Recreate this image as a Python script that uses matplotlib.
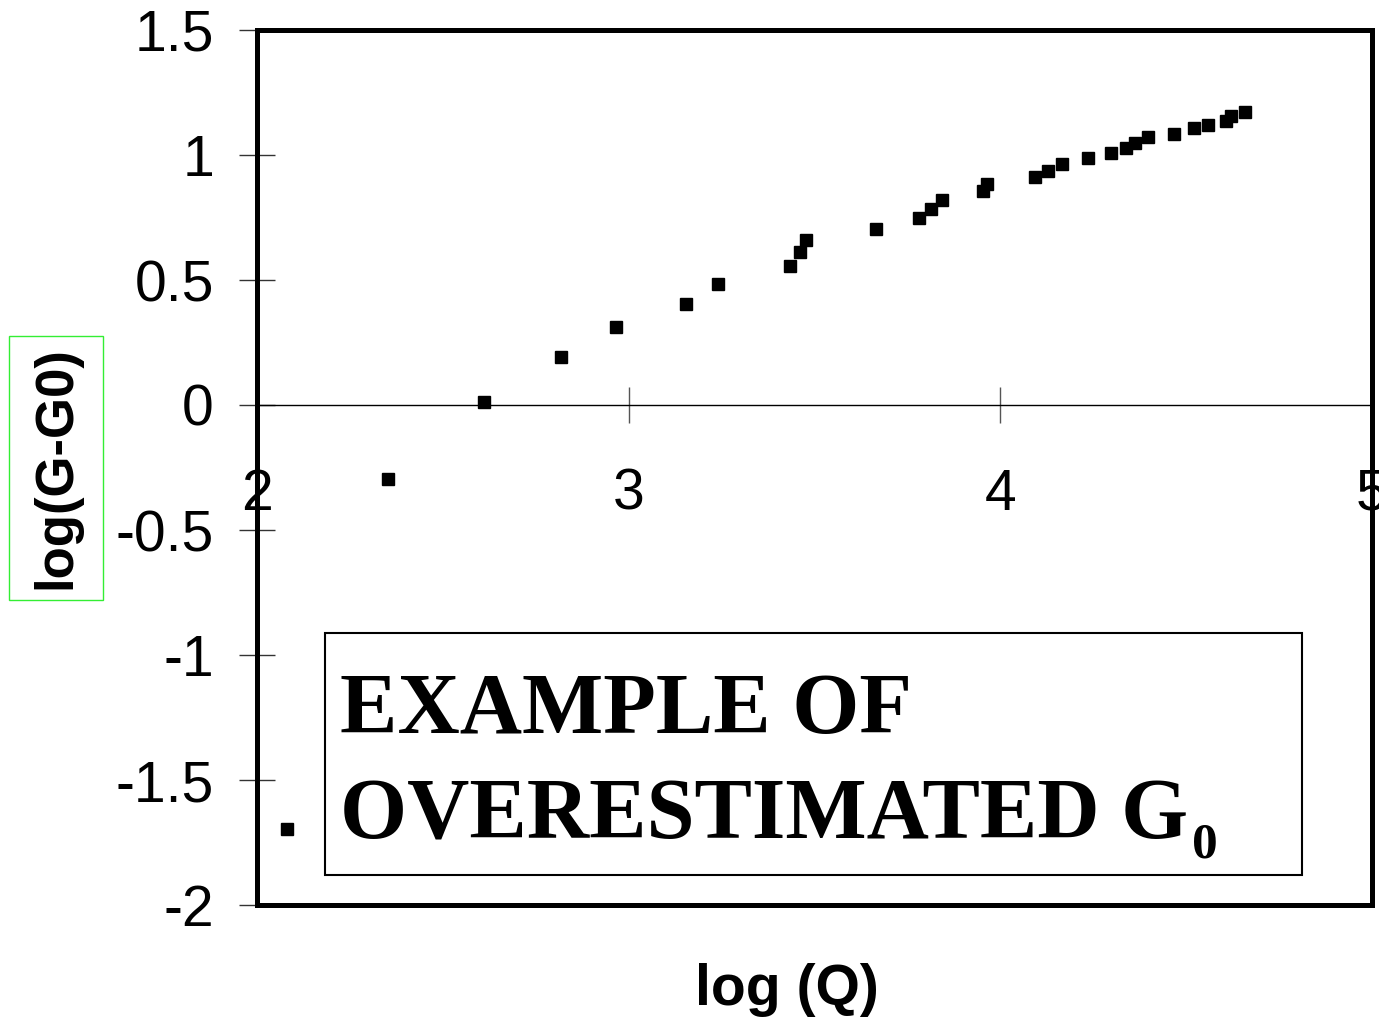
import matplotlib
matplotlib.use("Agg")
import matplotlib.pyplot as plt
from matplotlib.patches import Rectangle

# data
log_q = [2.081, 2.353, 2.612, 2.819, 2.965, 3.154, 3.240, 3.434, 3.461, 3.477,
         3.666, 3.782, 3.814, 3.844, 3.954, 3.965, 4.092, 4.129, 4.167, 4.235,
         4.299, 4.337, 4.361, 4.396, 4.466, 4.520, 4.558, 4.606, 4.620, 4.658]
log_g = [-1.696, -0.296, 0.012, 0.192, 0.312, 0.404, 0.484, 0.556, 0.612, 0.660,
         0.704, 0.748, 0.784, 0.820, 0.856, 0.884, 0.912, 0.936, 0.964, 0.988,
         1.008, 1.028, 1.048, 1.072, 1.084, 1.108, 1.120, 1.136, 1.156, 1.172]

x_ticks = [2, 3, 4, 5]
y_ticks = [1.5, 1, 0.5, 0, -0.5, -1, -1.5, -2]
y_tick_labels = ["1.5", "1", "0.5", "0", "-0.5", "-1", "-1.5", "-2"]

plt.rcParams['font.family'] = ['Liberation Sans', 'DejaVu Sans']

fig = plt.figure(figsize=(13.79, 10.21), dpi=100)
ax = fig.add_axes([257/1379, 1 - 905/1021, (1372 - 257)/1379, (905 - 30)/1021])

ax.plot(log_q, log_g, linestyle='none', marker='s', markersize=8.5,
        color='black', clip_on=False, zorder=5)

ax.set_xlim(2, 5)
ax.set_ylim(-2, 1.5)

# x axis crosses at y = 0, thick box drawn separately
ax.spines['bottom'].set_position(('data', 0))
ax.spines['bottom'].set_linewidth(1)
for s in ['left', 'top', 'right']:
    ax.spines[s].set_linewidth(3.6)
ax.add_patch(Rectangle((0, 0), 1, 1, transform=ax.transAxes, fill=False,
                       lw=3.6, edgecolor='black', clip_on=False, zorder=6))

ax.set_xticks(x_ticks)
ax.set_xticklabels([str(v) for v in x_ticks])
ax.set_yticks(y_ticks)
ax.set_yticklabels(y_tick_labels)
ax.tick_params(axis='x', direction='inout', length=26, width=1, color='#555555',
               labelsize=41, pad=32)
ax.tick_params(axis='y', direction='inout', length=26, width=1, color='#333333',
               labelsize=41, pad=18)

# annotation box
ax.add_patch(Rectangle((0.061, 0.034), 0.876, 0.277, transform=ax.transAxes,
                       fill=False, lw=1.5, edgecolor='black', zorder=4))
fig.text(340/1379, 1 - 733/1021, "EXAMPLE OF", family='Liberation Serif',
         weight='bold', fontsize=62, va='baseline', ha='left')
fig.text(340/1379, 1 - 838/1021, "OVERESTIMATED G",
         family='Liberation Serif', weight='bold', fontsize=62,
         va='baseline', ha='left')
fig.text(1192/1379, 1 - 857/1021, "0", family='Liberation Serif',
         weight='bold', fontsize=37, va='baseline', ha='left')

# axis titles
fig.text(56/1379, 1 - 468/1021, "log(G-G0)", rotation=90, fontsize=38,
         weight='bold', ha='center', va='center')
fig.patches.append(Rectangle((9/1379, 1 - 600/1021), 94/1379, 264/1021,
                             transform=fig.transFigure, fill=False,
                             edgecolor='#33ee33', lw=1))
fig.text(787/1379, 1 - 990/1021, "log (Q)", fontsize=41, weight='bold',
         ha='center', va='center')

fig.savefig("out.png", dpi=100)
